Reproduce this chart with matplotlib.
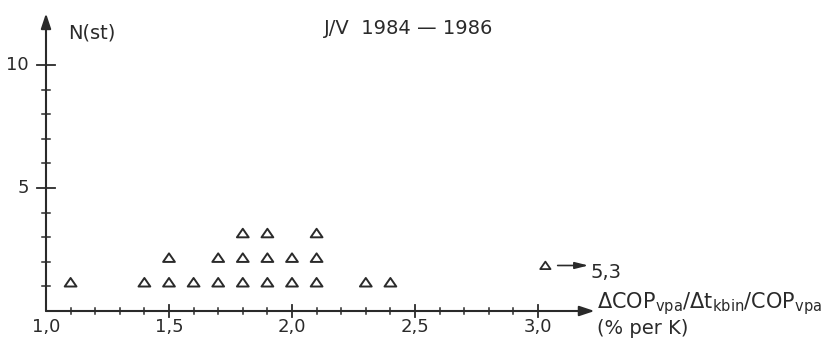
import numpy as np
import matplotlib
matplotlib.use('Agg')
import matplotlib.pyplot as plt
from matplotlib.path import Path
from matplotlib.transforms import offset_copy

plt.rcParams['font.family'] = ['DejaVu Sans']
plt.rcParams['mathtext.fontset'] = 'dejavusans'

# data
x_values = [1.1, 1.4, 1.5, 1.6, 1.7, 1.8, 1.9, 2.0, 2.1, 2.3, 2.4]
counts = [1, 1, 2, 1, 2, 3, 3, 2, 3, 1, 1]
outlier_x = 3.03
outlier_y = 1.85
outlier_label = '5,3'

x_major = [1.0, 1.5, 2.0, 2.5, 3.0]
x_major_labels = ['1,0', '1,5', '2,0', '2,5', '3,0']
x_minor = [1.1, 1.2, 1.3, 1.4, 1.6, 1.7, 1.8, 1.9, 2.1, 2.2, 2.3, 2.4,
           2.6, 2.7, 2.8, 2.9]
y_major = [5, 10]
y_minor = [1, 2, 3, 4, 6, 7, 8, 9]

title = 'J/V  1984 — 1986'
y_label = 'N(st)'
x_label = r'$\Delta$COP$_{\rm vpa}$/$\Delta$t$_{\rm kbin}$/COP$_{\rm vpa}$'
x_unit = '(% per K)'

ink = '#2a2a2a'
# slightly flattened open triangle, like the hand drawn one
tri = Path([(-1, -0.7), (1, -0.7), (0, 0.75), (-1, -0.7)], closed=True)

# stacked points: one triangle per station
px, py = [], []
for x, n in zip(x_values, counts):
    for k in range(1, n + 1):
        px.append(x)
        py.append(k)

fig = plt.figure(figsize=(8.33, 3.47), dpi=100)
ax = fig.add_axes([0, 0, 1, 1])
ax.set_xlim(1.0 - 46 / 246, 1.0 + (833 - 46) / 246)
ax.set_ylim(-36 / 24.6, 311 / 24.6)

# axes drawn as arrows
ax.annotate('', xy=(3.23, 0), xytext=(1.0, 0),
            arrowprops=dict(arrowstyle='-|>,head_length=0.9,head_width=0.3',
                            color=ink, lw=1.5, shrinkA=0, shrinkB=0))
ax.annotate('', xy=(1.0, 12.1), xytext=(1.0, 0),
            arrowprops=dict(arrowstyle='-|>,head_length=0.9,head_width=0.3',
                            color=ink, lw=1.5, shrinkA=0, shrinkB=0))

for s in ax.spines.values():
    s.set_visible(False)

# ticks
for x in x_major[1:]:
    ax.plot([x, x], [-0.25, 0.25], color=ink, lw=1.3)
for x in x_minor:
    ax.plot([x, x], [-0.12, 0.12], color=ink, lw=1.1)
for y in y_major:
    ax.plot([1.0 - 0.035, 1.0 + 0.035], [y, y], color=ink, lw=1.3)
for y in y_minor:
    ax.plot([1.0 - 0.016, 1.0 + 0.016], [y, y], color=ink, lw=1.1)
ax.set_xticks([])
ax.set_yticks([])

for x, lab in zip(x_major, x_major_labels):
    ax.text(x, -0.65, lab, ha='center', va='center', fontsize=13, color=ink)
for y in y_major:
    ax.text(1.0 - 0.07, y, str(y), ha='right', va='center', fontsize=13, color=ink)

# points (triangles sit a little above their value, as in the drawing)
lift = offset_copy(ax.transData, fig=fig, y=4, units='dots')
ax.scatter(px, py, marker=tri, s=72, facecolors='none', edgecolors=ink,
           linewidths=1.4, transform=lift)
ax.scatter([outlier_x], [outlier_y], marker=tri, s=55, facecolors='none',
           edgecolors=ink, linewidths=1.3)
ax.annotate('', xy=(outlier_x + 0.175, outlier_y), xytext=(outlier_x + 0.05, outlier_y),
            arrowprops=dict(arrowstyle='-|>,head_length=0.8,head_width=0.2',
                            color=ink, lw=1.2, shrinkA=0, shrinkB=0))
ax.text(outlier_x + 0.185, 1.55, outlier_label, ha='left', va='center',
        fontsize=14, color=ink)

# labels
ax.text(1.09, 11.3, y_label, ha='left', va='center', fontsize=14, color=ink)
ax.text(2.13, 11.5, title, ha='left', va='center', fontsize=14, color=ink)
ax.text(3.24, 0.3, x_label, ha='left', va='center', fontsize=15, color=ink)
ax.text(3.24, -0.7, x_unit, ha='left', va='center', fontsize=14, color=ink)

fig.savefig('out.png', dpi=100, facecolor='white')
